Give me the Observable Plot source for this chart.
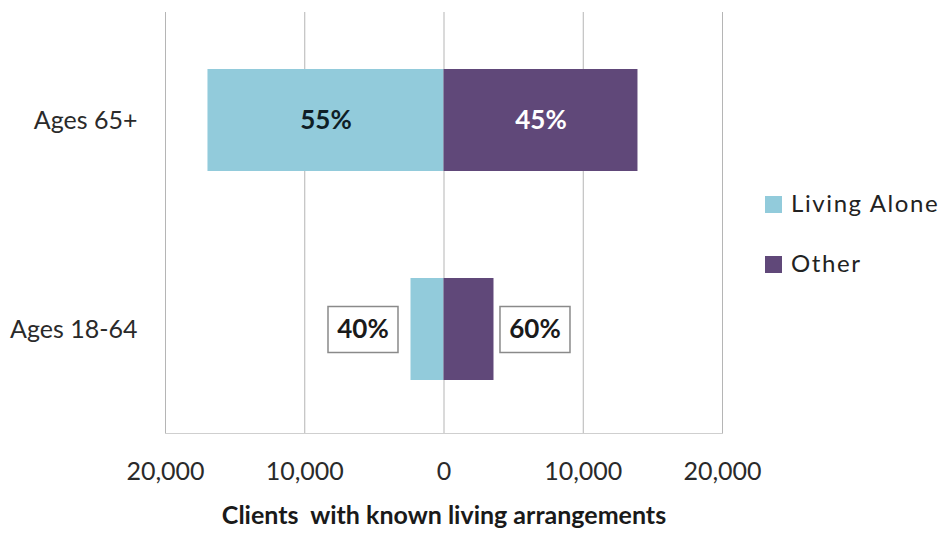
<!DOCTYPE html>
<html>
<head>
<meta charset="utf-8">
<script src="https://cdn.jsdelivr.net/npm/d3@7"></script>
<script src="https://cdn.jsdelivr.net/npm/@observablehq/plot@0.6"></script>
<style>
  body { margin: 0; background: #fff; }
  #wrap { position: relative; width: 945px; height: 537px; font-family: Lato, "Open Sans", sans-serif; }
  .leg { position: absolute; left: 765px; font-size: 24px; line-height: 24px; color: #222; white-space: nowrap; letter-spacing: 1.6px; }
  .leg span.sw { position: absolute; left: 0; top: 5px; width: 17px; height: 17px; }
  .leg span.tx { position: absolute; left: 26px; top: 0; }
</style>
</head>
<body>
<div id="wrap"></div>
<script>
const categories = ["Ages 65+", "Ages 18-64"];
const seriesNames = ["Living Alone", "Other"];
const livingAlone = [16950, 2370];
const other = [13930, 3590];
const seriesColors = ["#92CBDB", "#604879"];
const xTicks = [-20000, -10000, 0, 10000, 20000];
const axisTitle = "Clients  with known living arrangements";

const rows = [];
categories.forEach((c, i) => {
  const total = livingAlone[i] + other[i];
  rows.push({cat: c, series: seriesNames[0], x1: -livingAlone[i], x2: 0, pct: Math.round(100 * livingAlone[i] / total) + "%", idx: i});
  rows.push({cat: c, series: seriesNames[1], x1: 0, x2: other[i], pct: Math.round(100 * other[i] / total) + "%", idx: i});
});
const inside = rows.filter(d => d.idx === 0);
const outside = rows.filter(d => d.idx === 1);

const boxSymbol = {draw(ctx) { ctx.rect(-35, -23, 70, 46); }};

const chart = Plot.plot({
  width: 945,
  height: 537,
  marginLeft: 165,
  marginRight: 223,
  marginTop: 12,
  marginBottom: 104,
  style: {fontFamily: "Lato, 'Open Sans', sans-serif", background: "#fff"},
  x: {domain: [-20000, 20000]},
  y: {domain: categories, insetTop: 4, paddingInner: 0.51, paddingOuter: 0.25},
  color: {domain: seriesNames, range: seriesColors},
  marks: [
    Plot.gridX({ticks: xTicks, stroke: "#b5b5b5", strokeOpacity: 1, strokeWidth: 1}),
    Plot.frame({anchor: "bottom", stroke: "#cfcfcf"}),
    Plot.barX(rows, {x1: "x1", x2: "x2", y: "cat", fill: "series"}),
    Plot.text(inside, {
      x: d => (d.x1 + d.x2) / 2, y: "cat", text: "pct",
      fill: d => d.series === seriesNames[0] ? "#0f1e26" : "#ffffff",
      fontSize: 26, fontWeight: "bold"
    }),
    Plot.dot(outside.filter(d => d.series === seriesNames[0]), {x: "x1", y: "cat", symbol: boxSymbol, fill: "#fff", stroke: "#8a8a8a", strokeWidth: 1.5, dx: -48}),
    Plot.dot(outside.filter(d => d.series === seriesNames[1]), {x: "x2", y: "cat", symbol: boxSymbol, fill: "#fff", stroke: "#8a8a8a", strokeWidth: 1.5, dx: 41}),
    Plot.text(outside.filter(d => d.series === seriesNames[0]), {x: "x1", y: "cat", text: "pct", dx: -48, fontSize: 26, fontWeight: "bold", fill: "#1a1a1a"}),
    Plot.text(outside.filter(d => d.series === seriesNames[1]), {x: "x2", y: "cat", text: "pct", dx: 41, fontSize: 26, fontWeight: "bold", fill: "#1a1a1a"}),
    Plot.axisX({ticks: xTicks, tickFormat: d => d3.format(",")(Math.abs(d)), tickSize: 0, tickPadding: 29, fontSize: 25, fill: "#2a2a2a", label: null}),
    Plot.axisY({tickSize: 0, tickPadding: 28, fontSize: 25, fill: "#2a2a2a", label: null}),
    Plot.text([axisTitle], {frameAnchor: "bottom", dy: 90, fontSize: 25, fontWeight: "bold", fill: "#1a1a1a"})
  ]
});

const wrap = document.getElementById("wrap");
wrap.appendChild(chart);
const legTops = [191, 251];
seriesNames.forEach((name, i) => {
  const d = document.createElement("div");
  d.className = "leg";
  d.style.top = legTops[i] + "px";
  d.innerHTML = `<span class="sw" style="background:${seriesColors[i]}"></span><span class="tx"></span>`;
  d.querySelector(".tx").textContent = name;
  wrap.appendChild(d);
});
</script>
</body>
</html>
